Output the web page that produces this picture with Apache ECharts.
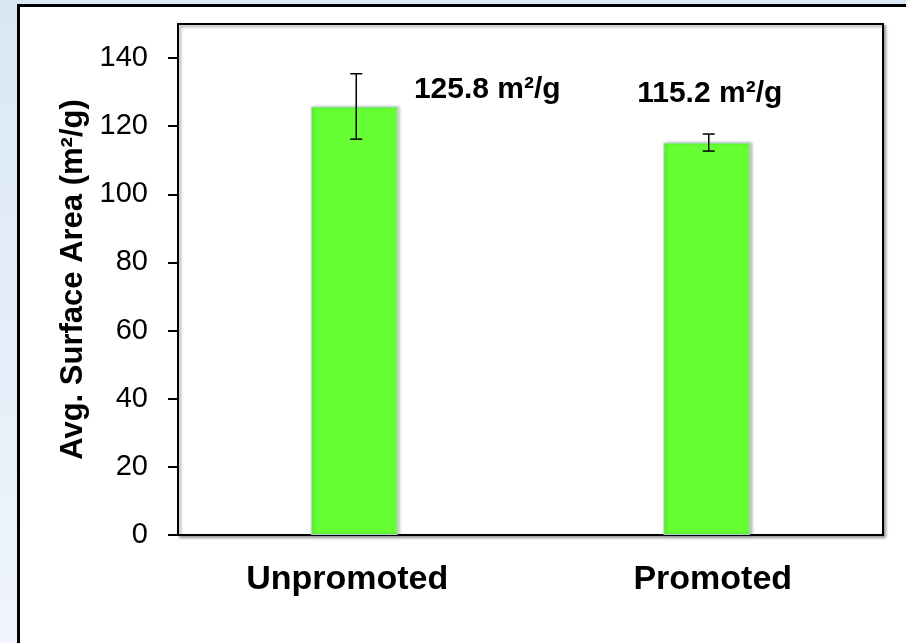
<!DOCTYPE html>
<html>
<head>
<meta charset="utf-8">
<script src="https://cdn.jsdelivr.net/npm/echarts@6/dist/echarts.min.js"></script>
<style>
  html, body { margin: 0; padding: 0; }
  #wrap { position: relative; width: 906px; height: 643px; overflow: hidden;
          background: linear-gradient(180deg, #d9e7f5 0%, #e6eff9 60%, #f0f5fb 100%); }
  #panel { position: absolute; left: 17px; top: 4px; width: 910px; height: 660px;
           background: #fff; border: 3px solid #000; box-sizing: border-box; }
  #chart { position: absolute; left: 0; top: 0; width: 906px; height: 643px; }
</style>
</head>
<body>
<div id="wrap">
  <div id="panel"></div>
  <div id="chart"></div>
</div>
<script>
// ---- data ----
const categories = ['Unpromoted', 'Promoted'];
const surfaceArea = [125.8, 115.2];
const errorAmount = [9.6, 2.5];
const yTicks = [0, 20, 40, 60, 80, 100, 120, 140];
const yTitle = 'Avg. Surface Area (m\u00b2/g)';
const unitSuffix = ' m\u00b2/g';

// ---- styling (not data) ----
const FONT = "'Liberation Sans', Arial, sans-serif";
const labelOffsets = [[133, 3], [3, -29]];
const catStyle = { fontFamily: FONT, fontSize: 34, fontWeight: 'bold', color: '#000' };

const chart = echarts.init(document.getElementById('chart'), null, { renderer: 'canvas' });

const barData = surfaceArea.map((v, i) => ({
  value: v,
  label: { offset: labelOffsets[i] }
}));

const errData = surfaceArea.map((v, i) => [i, v - errorAmount[i], v + errorAmount[i]]);

chart.setOption({
  backgroundColor: 'transparent',
  animation: false,
  grid: {
    left: 178, right: 23, top: 24, bottom: 108,
    show: true, borderColor: '#000', borderWidth: 2,
    backgroundColor: '#fff',
    shadowColor: 'rgba(0,0,0,0.35)', shadowBlur: 3, shadowOffsetX: 2, shadowOffsetY: 2
  },
  xAxis: {
    type: 'category',
    data: categories,
    axisLine: { lineStyle: { color: '#000', width: 2 } },
    axisTick: { show: false },
    axisLabel: {
      interval: 0,
      hideOverlap: false,
      margin: 28,
      formatter: (v, i) => '{c' + i + '|' + v + '}',
      rich: {
        c0: Object.assign({ padding: [0, 14, 0, 0] }, catStyle),
        c1: Object.assign({ padding: [0, 0, 0, 12] }, catStyle)
      },
      fontFamily: FONT, fontSize: 34, fontWeight: 'bold', color: '#000'
    }
  },
  yAxis: {
    type: 'value',
    min: 0, max: 150, interval: 10,
    name: yTitle,
    nameLocation: 'middle',
    nameGap: 83,
    nameTextStyle: { fontFamily: FONT, fontSize: 31, fontWeight: 'bold', color: '#000' },
    axisLine: { show: true, lineStyle: { color: '#000', width: 2 } },
    axisTick: { show: true, length: 10, lineStyle: { color: '#000', width: 2 }, customValues: yTicks },
    axisLabel: { margin: 30, fontFamily: FONT, fontSize: 29, color: '#000', customValues: yTicks },
    splitLine: { show: false }
  },
  series: [
    {
      type: 'bar',
      data: barData,
      barWidth: '24.7%',
      itemStyle: {
        color: '#66ff33',
        borderColor: 'rgba(190,215,235,0.9)', borderWidth: 1,
        shadowColor: 'rgba(0,0,0,0.3)', shadowBlur: 3, shadowOffsetX: 2
      },
      label: {
        show: true, position: 'top', distance: 5,
        formatter: p => p.value + unitSuffix,
        fontFamily: FONT, fontSize: 30, fontWeight: 'bold', color: '#000'
      },
      z: 2
    },
    {
      type: 'custom',
      data: errData,
      z: 5,
      renderItem: function (params, api) {
        const i = api.value(0);
        const lo = api.coord([i, api.value(1)]);
        const hi = api.coord([i, api.value(2)]);
        const x = lo[0] + 2;
        const hw = 6;
        const st = { stroke: '#000', lineWidth: 1.5 };
        return {
          type: 'group',
          children: [
            { type: 'line', shape: { x1: x, y1: lo[1], x2: x, y2: hi[1] }, style: st },
            { type: 'line', shape: { x1: x - hw, y1: lo[1], x2: x + hw, y2: lo[1] }, style: st },
            { type: 'line', shape: { x1: x - hw, y1: hi[1], x2: x + hw, y2: hi[1] }, style: st }
          ]
        };
      }
    }
  ]
});
</script>
</body>
</html>
